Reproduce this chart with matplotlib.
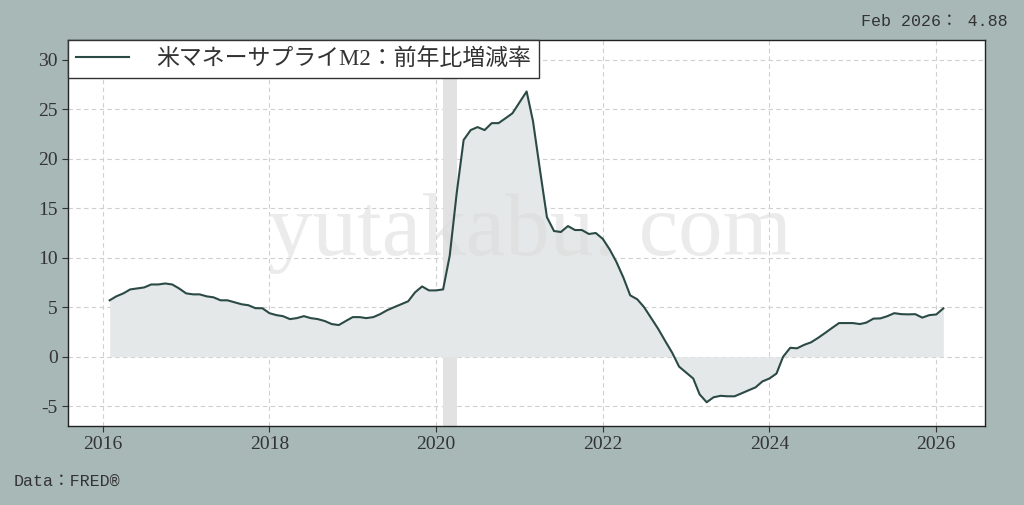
import matplotlib
matplotlib.use("Agg")
import matplotlib.pyplot as plt
import matplotlib.dates as mdates
import pandas as pd
import numpy as np

# Monthly M2 YoY growth (%), Feb 2016 - Feb 2026
start_month = "2016-02-01"
m2_yoy = [
    # 2016 Feb-Dec
    5.7, 6.1, 6.4, 6.8, 6.9, 7.0, 7.3, 7.3, 7.4, 7.3, 6.9,
    # 2017
    6.4, 6.3, 6.3, 6.1, 6.0, 5.7, 5.7, 5.5, 5.3, 5.2, 4.9, 4.9,
    # 2018
    4.4, 4.2, 4.1, 3.8, 3.9, 4.1, 3.9, 3.8, 3.6, 3.3, 3.2, 3.6,
    # 2019
    4.0, 4.0, 3.9, 4.0, 4.3, 4.7, 5.0, 5.3, 5.6, 6.5, 7.1, 6.7,
    # 2020
    6.7, 6.8, 10.2, 16.6, 21.9, 22.9, 23.2, 22.9, 23.6, 23.6, 24.1, 24.6,
    # 2021
    25.7, 26.8, 23.8, 18.8, 14.1, 12.7, 12.6, 13.2, 12.8, 12.8, 12.4, 12.5,
    # 2022
    11.9, 10.8, 9.6, 8.0, 6.2, 5.8, 5.0, 3.9, 2.8, 1.6, 0.4, -1.0,
    # 2023
    -1.6, -2.2, -3.8, -4.6, -4.1, -3.95, -4.0, -4.0, -3.7, -3.4, -3.1, -2.5,
    # 2024
    -2.2, -1.7, 0.0, 0.9, 0.85, 1.2, 1.45, 1.9, 2.4, 2.9, 3.4, 3.4,
    # 2025
    3.4, 3.3, 3.45, 3.85, 3.87, 4.1, 4.4, 4.3, 4.28, 4.3, 3.95, 4.2,
    # 2026 Jan-Feb
    4.27, 4.88,
]
recession = ("2020-02-01", "2020-03-31")
yticks = [-5, 0, 5, 10, 15, 20, 25, 30]
legend_label = "米マネーサプライM2：前年比増減率"
latest_label = "Feb 2026： 4.88"
source_label = "Data：FRED®"
watermark = "yutakabu. com"

dates = pd.date_range(start_month, periods=len(m2_yoy), freq="MS")
values = np.array(m2_yoy)

fam = ["Liberation Serif", "Noto Sans CJK JP", "DejaVu Sans"]
mono = ["Liberation Mono", "Noto Sans CJK JP", "DejaVu Sans"]
plt.rcParams["font.family"] = fam
plt.rcParams["axes.unicode_minus"] = False

bg = "#a7b8b6"
line_c = "#2b4a45"
fig = plt.figure(figsize=(10.24, 5.05), dpi=100, facecolor=bg)
ax = fig.add_axes([68/1024, 1-426/505, (985-68)/1024, (426-40)/505])
ax.set_facecolor("white")

ax.axvspan(pd.Timestamp(recession[0]), pd.Timestamp(recession[1]),
           color="#e2e2e2", zorder=1, lw=0)
ax.fill_between(dates, values, 0, color="#e4e8e8", zorder=2, lw=0)
ax.plot(dates, values, color=line_c, lw=1.5, zorder=4, label=legend_label)

ax.text(0.504, 0.50, watermark, transform=ax.transAxes, fontsize=64,
        color="#dcdcdc", alpha=0.55, ha="center", va="center", zorder=3,
        family=fam)

ax.set_ylim(-7, 32)
ax.set_yticks(yticks)
ax.margins(x=0.05)
ax.xaxis.set_major_locator(mdates.YearLocator(2))
ax.xaxis.set_major_formatter(mdates.DateFormatter("%Y"))

ax.grid(True, linestyle=(0, (4, 3)), color="#cfcfcf", lw=0.8, zorder=0)
ax.set_axisbelow(True)
for s in ax.spines.values():
    s.set_color("#222222")
    s.set_linewidth(1.0)
ax.tick_params(labelsize=14, colors="#333333", length=4)

leg = ax.legend(loc="upper left", borderaxespad=0,
                fancybox=False, framealpha=1, edgecolor="#333333",
                handlelength=2.3, handletextpad=1.2, borderpad=0.35,
                prop={"family": fam, "size": 16.5})
leg.get_frame().set_linewidth(1.0)
for t in leg.get_texts():
    t.set_color("#333333")

fig.text(1008/1024, 1-22/505, latest_label, ha="right", va="center",
         fontsize=12, color="#333333", family=mono)
fig.text(14/1024, 1-482/505, source_label, ha="left", va="center",
         fontsize=12, color="#333333", family=mono)

fig.savefig("out.png", dpi=100, facecolor=bg)
